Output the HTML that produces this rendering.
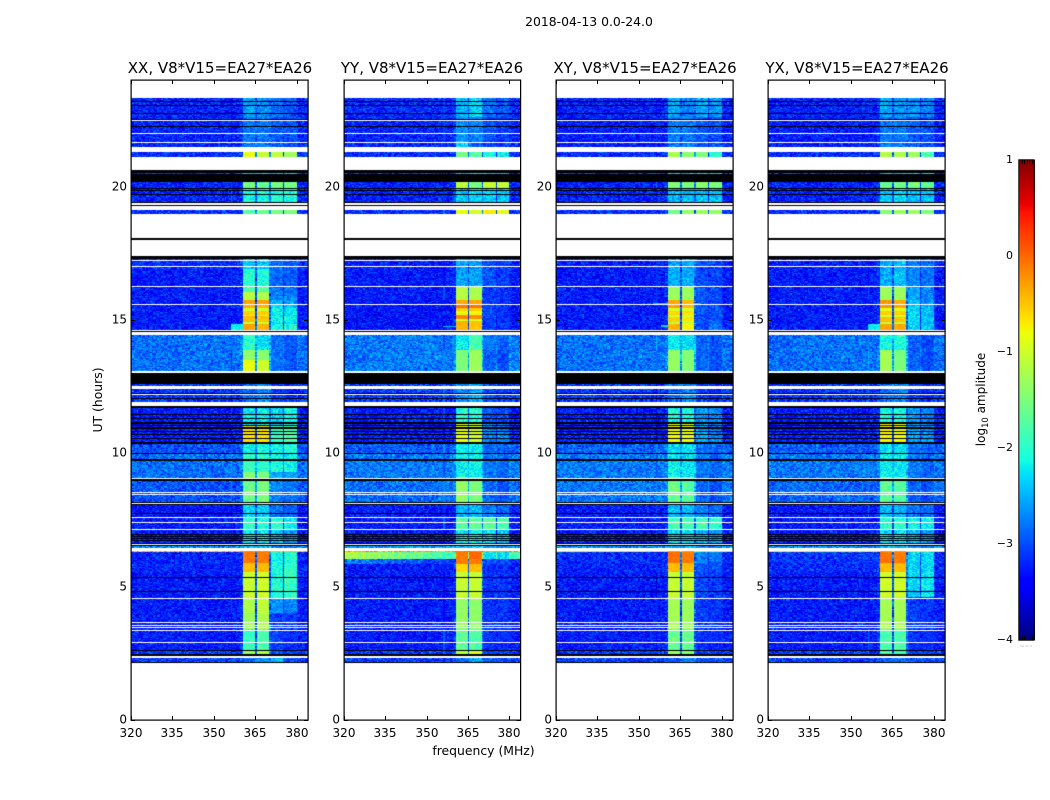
<!DOCTYPE html>
<html>
<head>
<meta charset="utf-8">
<title>2018-04-13 0.0-24.0</title>
<style>
html,body{margin:0;padding:0;background:#fff;width:1050px;height:800px;overflow:hidden}
#figure{position:relative;width:1050px;height:800px;background:#fff}
canvas{position:absolute;display:block}
svg{position:absolute;left:0;top:0}
text{font-family:"DejaVu Sans","Liberation Sans",sans-serif;fill:#000}
</style>
</head>
<body>
<div id="figure">
<svg id="overlay" width="1050" height="800" viewBox="0 0 1050 800">
<text x="589" y="26" font-size="12.4" text-anchor="middle">2018-04-13 0.0-24.0</text>
<text x="0" y="0" font-size="12.4" text-anchor="middle" transform="translate(102,400) rotate(-90)">UT (hours)</text>
<text x="483.5" y="755" font-size="12.4" text-anchor="middle">frequency (MHz)</text>
<text x="0" y="0" font-size="12" text-anchor="middle" transform="translate(985,399.5) rotate(-90)">log<tspan font-size="8.4" dy="3">10</tspan><tspan dy="-3"> amplitude</tspan></text>
</svg>
</div>
<script>
/* Categories and tick labels */
const panelTitles = ["XX, V8*V15=EA27*EA26", "YY, V8*V15=EA27*EA26", "XY, V8*V15=EA27*EA26", "YX, V8*V15=EA27*EA26"];
const freqTicks = [320, 335, 350, 365, 380];
const hourTicks = [0, 5, 10, 15, 20];
const colorTicks = [1, 0, -1, -2, -3, -4];

/* Spectral windows in MHz */
const spectralWindows = [[360.5, 365], [365.5, 370], [370.5, 375], [375.5, 380]];

/* Flagged time ranges in hours, shared by all polarisations */
const whiteGaps = [[24,23.33],[22.51,22.47],[22.02,21.98],[21.68,21.64],[21.47,21.3],[21.1,20.62],[19.38,19.34],[19.29,19.12],[18.96,18.06],[18,17.4],[17.26,17.22],[17.03,16.99],[16.28,16.24],[15.61,15.57],[14.63,14.59],[14.54,14.45],[13.08,13.04],[12.53,12.41],[12.23,12.19],[11.93,11.78],[9.08,9.04],[8.54,8.5],[8.46,8.42],[8.13,8.09],[7.62,7.58],[7.43,7.39],[7.17,7.13],[6.61,6.57],[6.46,6.34],[4.57,4.53],[3.68,3.64],[3.58,3.54],[3.49,3.45],[3.39,3.35],[2.93,2.89],[2.39,2.33],[2.12,0]];
const blackGaps = [[23.21,23.17],[23.08,23.04],[22.77,22.73],[22.55,22.51],[22.27,22.23],[21.13,21.1],[20.62,20.53],[20.49,20.19],[19.96,19.92],[19.86,19.82],[19.73,19.69],[19.42,19.38],[19.33,19.29],[18.98,18.96],[18.06,18],[17.4,17.28],[14.59,14.54],[13.03,12.59],[12.27,12.23],[12.06,12.02],[11.78,11.69],[11.46,11.42],[11.34,11.3],[11.16,11.1],[11.08,11.04],[10.97,10.93],[10.83,10.79],[10.71,10.67],[10.58,10.54],[10.42,10.35],[10.02,9.98],[9.79,9.71],[9.04,8.98],[8.17,8.13],[8.09,8.05],[7.78,7.74],[6.98,6.94],[6.9,6.86],[6.83,6.79],[6.74,6.7],[6.64,6.6],[6.56,6.52],[5.36,5.32],[4.83,4.79],[2.64,2.6],[2.47,2.39],[2.16,2.12]];

/* Estimated log10 amplitude per time band:
   [topHour, bottomHour, background, window1, window2, window3, window4, optional background at 320 MHz] */
const rowsXX = [
[23.33,22.6,-3.25,-2.6,-2.7,-2.85,-3],[22.6,21.3,-3.25,-2.8,-2.8,-2.95,-3],[21.3,21.1,-3.2,-0.85,-1.05,-1.1,-1.3],
[20.55,20.47,-3.2,-2.4,-2.4,-2.4,-2.4],[20.19,19.95,-3.25,-1.6,-1.65,-1.55,-1.55],[19.95,19.36,-3.25,-2.1,-2.1,-2.05,-2.05],[19.12,18.96,-3.2,-1.75,-1.55,-1.55,-1.5],
[17.28,16.9,-3.2,-2.4,-2.4,-2.85,-2.95],[16.9,16.26,-3.3,-2,-2.05,-2.85,-2.95],[16.26,16.05,-3.3,-1.75,-1.75,-2.85,-2.85],[16.05,15.75,-3.3,-1.15,-1.2,-2.75,-2.75],
[15.75,15.59,-3.3,-0.3,-0.3,-2.55,-2.65],[15.59,15.44,-3.3,-0.35,-0.4,-2.35,-2.45],[15.44,15.35,-3.3,-1,-1,-2.25,-2.25],[15.35,15.19,-3.3,-0.55,-0.55,-2.2,-2.2],[15.19,15.15,-3.3,-1,-1,-2.25,-2.25],[15.15,14.91,-3.3,-0.45,-0.5,-2.15,-2.15],[14.91,14.85,-3.3,-1.05,-1.05,-2.25,-2.25],[14.85,14.59,-3.3,-0.3,-0.4,-2.1,-2.1],
[14.45,13.87,-2.85,-2,-2.3,-2.85,-2.95],[13.87,13.5,-2.85,-1.4,-1.45,-2.85,-2.95],[13.5,13.04,-2.85,-0.85,-1,-2.85,-2.95],
[12.59,11.78,-3.15,-2.85,-2.75,-3.1,-3.2],[11.69,11.05,-3.3,-2.2,-2.2,-2.35,-2.15],[11.05,10.42,-3.3,-0.65,-0.65,-1.9,-1.8],[10.42,10,-3,-2.2,-2.1,-2.15,-2.05],[10,9.3,-2.85,-1.9,-2,-2.1,-2.15],[9.3,9.04,-2.85,-1.45,-1.5,-2.55,-2.65],
[9.04,8.15,-3,-1.6,-1.5,-2.75,-2.85],[8.15,7.6,-3.35,-2.35,-2.35,-2.85,-2.95],[7.6,7.15,-3.3,-2,-2,-2,-2.2],[7.15,6.59,-3.3,-2.25,-2.25,-2.45,-2.65],[6.59,6.46,-2.7,-2.45,-2.45,-2.8,-2.8],
[6.34,6.29,-0.5,-0.2,-0.2,-0.5,-0.5],[6.29,5.9,-3.25,-0.1,-0.1,-2.1,-2.05],[5.9,5.55,-3.25,-0.45,-0.45,-2.1,-2],[5.55,4.55,-3.3,-1.05,-1,-2.05,-1.95],[4.55,4,-3.3,-1.2,-1.1,-2.65,-2.75],[4,3.4,-3.3,-1.3,-1.2,-3.1,-3.1],[3.4,2.62,-3.3,-1.9,-1.8,-3.1,-3.2],[2.62,2.47,-3.1,-1.3,-1.2,-3,-3.1],[2.47,2.12,-3.1,-2.9,-2.7,-2.45,-3]
];
const rowsYY = [
[23.33,22.6,-3.2,-2.5,-2.35,-2.85,-2.95],[22.6,21.7,-3.25,-2.65,-2.75,-3,-3.1],[21.7,21.3,-3.25,-2.35,-2.85,-3.1,-3.1],[21.3,21.1,-3.2,-1.55,-1.8,-2.1,-2.2],
[20.55,20.47,-3.2,-2.5,-2.35,-2.4,-2.5],[20.19,19.95,-3.25,-1.1,-1.6,-1.05,-1.1],[19.95,19.36,-3.25,-2.4,-2.35,-2.35,-2.4],[19.12,18.96,-3.2,-0.85,-1,-0.7,-0.9],
[17.28,16.26,-3.3,-2.6,-2.6,-3,-3.1],[16.26,15.75,-3.3,-1.15,-1.2,-3.1,-3.15],[15.75,15.59,-3.35,-0.35,-0.35,-3.1,-3.15],[15.59,15.44,-3.35,-0.05,-0.05,-3.1,-3.15],[15.44,15.35,-3.35,-0.55,-0.55,-3.1,-3.15],[15.35,15.2,-3.35,-0.8,-0.8,-3.1,-3.15],[15.2,15.05,-3.35,-0.15,-0.2,-3.1,-3.15],[15.05,14.95,-3.35,-0.9,-0.9,-3.1,-3.15],[14.95,14.59,-3.35,-0.4,-0.5,-3.1,-3.15],
[14.45,13.87,-2.8,-2.2,-1.85,-2.8,-2.9],[13.87,13.04,-2.8,-1.5,-1.3,-2.9,-3],
[12.59,11.78,-3.1,-2.7,-2.55,-3,-3.1],[11.69,11.15,-3.3,-2.05,-2.05,-3,-3],[11.15,10.4,-3.3,-0.85,-1,-2.75,-2.75],[10.4,10,-2.95,-2.2,-2.2,-2.9,-2.9],[10,9.1,-2.8,-2.2,-2.2,-2.8,-2.9],[9.1,8.15,-2.85,-1.35,-1.5,-2.9,-3],
[8.15,7.6,-3.3,-2.5,-2.5,-2.75,-2.9],[7.6,7.15,-3.3,-1.7,-1.7,-1.7,-1.8],[7.15,6.59,-3.3,-2.2,-2.2,-2.3,-2.45],[6.59,6.46,-2.6,-2.5,-2.45,-2.65,-2.7],
[6.34,6.29,-0.3,-0.1,-0.1,-0.3,-0.3],[6.29,6.05,-1.9,-0.1,0,-2.3,-2.3,-1.2],[6.05,5.85,-3.2,-0.1,-0.1,-3,-3,-2.7],[5.85,5.55,-3.3,-0.6,-0.45,-3.15,-3.15],[5.55,4.55,-3.3,-1.05,-1.05,-3.15,-3.15],[4.55,3.4,-3.3,-1.35,-1.4,-3.15,-3.15],[3.4,2.62,-3.3,-1.65,-1.8,-3.15,-3.2],[2.62,2.47,-3.1,-1.1,-0.9,-3.05,-3.1],[2.47,2.12,-3.1,-2.9,-2.6,-3,-3]
];
const rowsXY = [
[23.33,22.6,-3.25,-2.55,-2.75,-2.55,-2.65],[22.6,21.3,-3.3,-2.8,-2.8,-2.95,-3],[21.3,21.1,-3.2,-1.2,-1.4,-1.5,-2.05],
[20.55,20.47,-3.2,-2.4,-2.4,-2.4,-2.4],[20.19,19.95,-3.25,-1.45,-1.5,-1.4,-1.5],[19.95,19.36,-3.25,-2.5,-2.45,-2.45,-2.45],[19.12,18.96,-3.2,-1.55,-1.35,-1.3,-1.35],
[17.28,16.26,-3.3,-2.55,-2.55,-3,-3.05],[16.26,15.75,-3.3,-1.3,-1.3,-3,-3.05],[15.75,15.59,-3.3,-0.35,-0.45,-3,-3.05],[15.59,15.44,-3.3,-0.3,-0.45,-3,-3],[15.44,15.35,-3.3,-0.95,-0.95,-3,-3],[15.35,15.19,-3.3,-0.6,-0.65,-3,-3],[15.19,15.12,-3.3,-1,-1,-3,-3],[15.12,14.91,-3.3,-0.55,-0.7,-3,-2.95],[14.91,14.85,-3.3,-1.1,-1.1,-3,-2.95],[14.85,14.59,-3.3,-0.4,-0.75,-3,-2.75],
[14.45,13.87,-2.85,-2.2,-2.3,-2.9,-3],[13.87,13.04,-2.85,-1.35,-1.45,-2.9,-3],
[12.59,11.78,-3.15,-2.85,-2.75,-3.1,-3.2],[11.69,11.15,-3.3,-2.1,-2.1,-2.65,-2.75],[11.15,10.42,-3.3,-0.8,-0.85,-2.55,-2.75],[10.42,10,-2.9,-2.3,-2.3,-2.85,-2.9],[10,9.1,-2.8,-2.2,-2.25,-2.8,-2.9],[9.1,8.15,-2.8,-1.6,-1.75,-2.9,-3],
[8.15,7.6,-3.3,-2.45,-2.5,-2.75,-2.85],[7.6,7.15,-3.3,-1.85,-1.85,-1.85,-2],[7.15,6.59,-3.3,-2.3,-2.3,-2.45,-2.65],[6.59,6.46,-2.7,-2.5,-2.5,-2.7,-2.8],
[6.34,6.29,-1.2,-0.3,-0.3,-1.2,-1.2],[6.29,5.9,-3.2,-0.05,-0.1,-2.75,-2.85],[5.9,5.55,-3.25,-0.45,-0.45,-3,-3],[5.55,4.55,-3.3,-1.05,-1.05,-3.05,-3.1],[4.55,3.4,-3.3,-1.25,-1.3,-3.1,-3.15],[3.4,2.62,-3.3,-1.6,-1.65,-3.15,-3.2],[2.62,2.47,-3.1,-1.3,-1.4,-3.05,-3.1],[2.47,2.12,-3.1,-2.9,-2.8,-3,-3]
];
const rowsYX = [
[23.33,22.6,-3.25,-2.55,-2.65,-2.65,-2.75],[22.6,21.3,-3.3,-2.8,-2.8,-2.95,-3],[21.3,21.1,-3.2,-1.15,-1.2,-1.3,-1.85],
[20.55,20.47,-3.2,-2.4,-2.4,-2.4,-2.4],[20.19,19.95,-3.25,-1.6,-1.6,-1.55,-1.7],[19.95,19.36,-3.25,-2.4,-2.35,-2.45,-2.45],[19.12,18.96,-3.2,-1.45,-1.3,-1.3,-1.5],
[17.28,16.26,-3.3,-2.55,-2.45,-2.75,-2.85],[16.26,15.75,-3.3,-1.3,-1.3,-2.55,-2.75],[15.75,15.59,-3.3,-0.25,-0.35,-2.45,-2.65],[15.59,15.44,-3.3,-0.25,-0.35,-2.35,-2.55],[15.44,15.35,-3.3,-0.9,-0.9,-2.35,-2.55],[15.35,15.19,-3.3,-0.55,-0.55,-2.35,-2.45],[15.19,15.12,-3.3,-1,-1,-2.35,-2.45],[15.12,14.91,-3.3,-0.45,-0.5,-2.25,-2.45],[14.91,14.85,-3.3,-1.1,-1.1,-2.35,-2.45],[14.85,14.59,-3.3,-0.3,-0.35,-2.35,-2.45],
[14.45,13.87,-2.85,-2.1,-2.05,-2.9,-3],[13.87,13.04,-2.85,-1.25,-1.5,-2.9,-3],
[12.59,11.78,-3.15,-2.85,-2.75,-3.1,-3.2],[11.69,11.15,-3.3,-2.1,-2.1,-2.65,-2.75],[11.15,10.42,-3.3,-0.75,-0.8,-2.55,-2.65],[10.42,10,-2.95,-2.3,-2.3,-2.85,-2.9],[10,9.1,-2.8,-2.2,-2.25,-2.8,-2.9],[9.1,8.15,-2.9,-1.7,-1.75,-2.9,-3],
[8.15,7.6,-3.3,-2.45,-2.5,-2.8,-2.85],[7.6,7.15,-3.3,-2,-2,-2.1,-2.2],[7.15,6.59,-3.3,-2.3,-2.3,-2.5,-2.65],[6.59,6.46,-2.7,-2.5,-2.5,-2.7,-2.8],
[6.34,6.29,-1,-0.3,-0.3,-1,-1],[6.29,5.9,-3.15,-0.05,-0.1,-2.35,-2.35],[5.9,5.55,-3.2,-0.45,-0.45,-2.35,-2.35],[5.55,4.6,-3.3,-1,-1,-2.35,-2.25],[4.6,3.4,-3.3,-1.25,-1.25,-3.1,-3.15],[3.4,2.62,-3.3,-1.8,-1.8,-3.15,-3.2],[2.62,2.47,-3.1,-1.7,-1.8,-3.05,-3.1],[2.47,2.12,-3.1,-2.95,-2.9,-3,-3]
];

/* Narrow features: [topHour, bottomHour, startMHz, endMHz, log10 amplitude] */
const stripsXX = [[15.62,15.56,357,360.5,-2.3],[14.85,14.62,356,360.5,-2.2],[6.07,6.02,320,358,-2.4],[6.07,6.02,358,360.5,-2]];
const stripsYY = [[15.62,15.54,355,360.5,-2.3],[15.4,15.36,355,360.5,-2.4],[15.12,15.06,355,360.5,-2.3],[15.12,15.06,370,375,-2.5],[14.82,14.72,356,360.5,-2.4],[6.02,5.98,340,358,-1.9],[5.3,5.25,352,358,-2.5]];
const stripsXY = [[15.65,15.56,355,360.5,-2.4],[15.65,15.56,370,372,-2.3],[14.82,14.7,358,360.5,-2.3]];
const stripsYX = [[15.62,15.54,356,360.5,-2.3],[14.85,14.62,356,360.5,-2.2],[6.08,6.03,320,335,-1.5],[6.08,6.03,335,360,-2.1]];

const panelRows = [rowsXX, rowsYY, rowsXY, rowsYX];
const panelStrips = [stripsXX, stripsYY, stripsXY, stripsYX];

/* Fixed hand-typed texture offsets for the receiver noise (tenths of a decade) */
const noiseTexture = [3,-2,5,-4,1,7,-6,2,-1,4,-3,6,-5,0,2,-7,5,1,-2,3,-4,8,-1,-5,2,6,-3,0,4,-6,1,-2,7,-4,3,-1,5,-5,2,-3,6,0,-6,4,1,-2,-4,3,7,-1,-5,2,5,-3,0,-7,4,1,6,-2,-4,3,-1,5,-6,2,8,-3,0,4,-5,1,-2,6,-4,3,-1,-6,5,2,-3,7,0,-5,4,1,-2,3,-7,6,-1,2,-4,5,0,-3,1,4,-5,6,-2];

/* Layout */
const plotLefts = [131, 344, 556, 768];
const plotWidths = [177, 176.5, 177, 177];
const titleCenters = [220, 432, 645, 857];
const plotTop = 80;
const plotBottom = 720;
const freqMin = 320, freqMax = 384, hourMin = 0, hourMax = 24;
const channelMHz = 0.5, integrationHours = 0.04;
const colorMin = -4, colorMax = 1;
const cbLeft = 1019, cbRight = 1035, cbTop = 160, cbBottom = 640;

const svgNS = 'http://www.w3.org/2000/svg';
const overlay = document.getElementById('overlay');
const figure = document.getElementById('figure');

function xScale(freq, p) { return plotLefts[p] + (freq - freqMin) / (freqMax - freqMin) * plotWidths[p]; }
function yScale(hour) { return plotBottom - (hour - hourMin) / (hourMax - hourMin) * (plotBottom - plotTop); }
function cbScale(v) { return cbBottom - (v - colorMin) / (colorMax - colorMin) * (cbBottom - cbTop); }

function lerpStops(t, stops) {
  for (let i = 1; i < stops.length; i++) {
    if (t <= stops[i][0]) {
      const a = stops[i - 1], b = stops[i];
      return a[1] + (b[1] - a[1]) * (t - a[0]) / (b[0] - a[0]);
    }
  }
  return stops[stops.length - 1][1];
}
const jetR = [[0,0],[0.35,0],[0.66,1],[0.89,1],[1,0.5]];
const jetG = [[0,0],[0.125,0],[0.375,1],[0.64,1],[0.91,0],[1,0]];
const jetB = [[0,0.5],[0.11,1],[0.34,1],[0.65,0],[1,0]];
function jet(v) {
  const t = Math.min(1, Math.max(0, (v - colorMin) / (colorMax - colorMin)));
  return 'rgb(' + Math.round(255 * lerpStops(t, jetR)) + ',' + Math.round(255 * lerpStops(t, jetG)) + ',' + Math.round(255 * lerpStops(t, jetB)) + ')';
}

function levelAt(row, freq) {
  for (let k = 0; k < spectralWindows.length; k++) {
    if (freq >= spectralWindows[k][0] && freq < spectralWindows[k][1]) return { v: row[3 + k], inWindow: true };
  }
  let bg = row[2];
  if (row.length > 7 && freq < 360.5) bg = row[7] + (row[2] - row[7]) * (freq - freqMin) / 40;
  if (freq >= 359.5 && freq < 360.5) bg += 0.1;
  if (freq >= 365 && freq < 370.5) bg += 0.3;
  if (freq >= 370 && freq < 380.5) bg += 0.1;
  return { v: bg, inWindow: false };
}

function addLine(parent, x1, y1, x2, y2, stroke) {
  const l = document.createElementNS(svgNS, 'line');
  l.setAttribute('x1', x1); l.setAttribute('y1', y1);
  l.setAttribute('x2', x2); l.setAttribute('y2', y2);
  l.setAttribute('stroke', stroke);
  l.setAttribute('stroke-width', '1');
  parent.appendChild(l);
  return l;
}
function addText(parent, x, y, str, size, anchor) {
  const t = document.createElementNS(svgNS, 'text');
  t.setAttribute('x', x); t.setAttribute('y', y);
  t.setAttribute('font-size', size);
  t.setAttribute('text-anchor', anchor);
  t.textContent = str;
  parent.appendChild(t);
  return t;
}
function fmt(v) { return v < 0 ? '\u2212' + Math.abs(v) : String(v); }

function drawPanel(p) {
  const left = plotLefts[p];
  const canvas = document.createElement('canvas');
  
  
  canvas.width = Math.round(plotWidths[p]);
  canvas.height = plotBottom - plotTop;
  canvas.style.left = left + 'px';
  canvas.style.top = plotTop + 'px';
  figure.insertBefore(canvas, overlay);
  const ctx = canvas.getContext('2d');
  const rows = panelRows[p];
  const strips = panelStrips[p];
  const tLen = noiseTexture.length;

  rows.forEach(function (row, r) {
    const steps = Math.max(1, Math.round((row[0] - row[1]) / integrationHours));
    for (let j = 0; j < steps; j++) {
      const hTop = row[0] - j * (row[0] - row[1]) / steps;
      const hBot = row[0] - (j + 1) * (row[0] - row[1]) / steps;
      const y0 = Math.round(yScale(hTop)) - plotTop;
      const y1 = Math.max(y0 + 1, Math.round(yScale(hBot)) - plotTop);
      const nCh = Math.round((freqMax - freqMin) / channelMHz);
      for (let i = 0; i < nCh; i++) {
        const f = freqMin + i * channelMHz;
        const lv = levelAt(row, f + channelMHz / 2);
        const idx = (i * 17 + (j + r * 11 + p * 5) * 29 + i * (j + r)) % tLen;
        const spread = lv.inWindow ? (lv.v < -1.5 ? 0.04 : 0.012) : 0.055;
        let v = lv.v + noiseTexture[idx] * spread;
        for (let s = 0; s < strips.length; s++) {
          const st = strips[s];
          if (hTop <= st[0] + 1e-6 && hBot >= st[1] - 1e-6 && f >= st[2] && f < st[3]) v = st[4] + noiseTexture[idx] * 0.02;
        }
        const x0 = Math.round(xScale(f, p)) - left;
        const x1 = Math.round(xScale(f + channelMHz, p)) - left;
        ctx.fillStyle = jet(v);
        ctx.fillRect(x0, y0, Math.max(1, x1 - x0), y1 - y0);
      }
    }
  });

  function paintMask(gaps, color) {
    ctx.fillStyle = color;
    gaps.forEach(function (g) {
      const y0 = Math.round(yScale(g[0])) - plotTop;
      const y1 = Math.max(y0 + 1, Math.round(yScale(g[1])) - plotTop);
      ctx.fillRect(0, y0, canvas.width, y1 - y0);
    });
  }
  paintMask(blackGaps, '#000');
  paintMask(whiteGaps, '#fff');

  const g = document.createElementNS(svgNS, 'g');
  
  
  overlay.appendChild(g);

  const right = left + plotWidths[p];
  const frame = document.createElementNS(svgNS, 'rect');
  
  
  frame.setAttribute('x', left + 0.1);
  frame.setAttribute('y', plotTop + 0.1);
  frame.setAttribute('width', plotWidths[p]);
  frame.setAttribute('height', plotBottom - plotTop);
  frame.setAttribute('fill', 'none');
  frame.setAttribute('stroke', '#000');
  frame.setAttribute('stroke-width', '1.2');
  g.appendChild(frame);

  const title = addText(g, titleCenters[p], 73, panelTitles[p], 15, 'middle');
  
  

  freqTicks.forEach(function (f) {
    const x = Math.round(xScale(f, p)) + 0.5;
    const t1 = addLine(g, x, plotBottom, x, plotBottom - 4, '#000');
    
    
    const t2 = addLine(g, x, plotTop, x, plotTop + 4, '#000');
    
    
    const lab = addText(g, x - 0.5, 737, String(f), 12, 'middle');
    
    
  });
  hourTicks.forEach(function (h) {
    const y = Math.round(yScale(h)) + 0.5;
    const t1 = addLine(g, left, y, left + 4, y, '#000');
    
    
    const t2 = addLine(g, right, y, right - 4, y, '#000');
    
    
    const lab = addText(g, left - 4, y + 3, String(h), 12, 'end');
    
    
  });
}

function drawColorbar() {
  const canvas = document.createElement('canvas');
  
  
  canvas.width = cbRight - cbLeft;
  canvas.height = cbBottom - cbTop;
  canvas.style.left = cbLeft + 'px';
  canvas.style.top = cbTop + 'px';
  figure.insertBefore(canvas, overlay);
  const ctx = canvas.getContext('2d');
  for (let py = 0; py < canvas.height; py++) {
    const v = colorMax - (py + 0.5) / canvas.height * (colorMax - colorMin);
    ctx.fillStyle = jet(v);
    ctx.fillRect(0, py, canvas.width, 1);
  }
  const g = document.createElementNS(svgNS, 'g');
  
  
  overlay.appendChild(g);

  const outer = document.createElementNS(svgNS, 'rect');
  
  
  outer.setAttribute('x', cbLeft - 0.2);
  outer.setAttribute('y', cbTop - 0.2);
  outer.setAttribute('width', cbRight - cbLeft - 0.6);
  outer.setAttribute('height', cbBottom - cbTop + 0.4);
  outer.setAttribute('fill', 'none');
  outer.setAttribute('stroke', '#000');
  outer.setAttribute('stroke-width', '1');
  g.appendChild(outer);

  colorTicks.forEach(function (v) {
    const lab = addText(g, cbLeft - 6, Math.round(cbScale(v)) + 3, fmt(v), 11, 'end');
    
    
  });
  for (let k = 1; k <= 5; k++) {
    const x = Math.round(cbLeft + k * (cbRight - cbLeft - 1) / 6) + 0.5;
    const t1 = addLine(g, x, cbTop, x, cbTop + 4, '#000');
    
    
    const t2 = addLine(g, x, cbBottom, x, cbBottom - 4, '#000');
    
    
    const dot = addLine(g, x - 2, 646, x - 1, 646, '#999');
    
    
  }
}

for (let p = 0; p < panelTitles.length; p++) drawPanel(p);
drawColorbar();
</script>
</body>
</html>
